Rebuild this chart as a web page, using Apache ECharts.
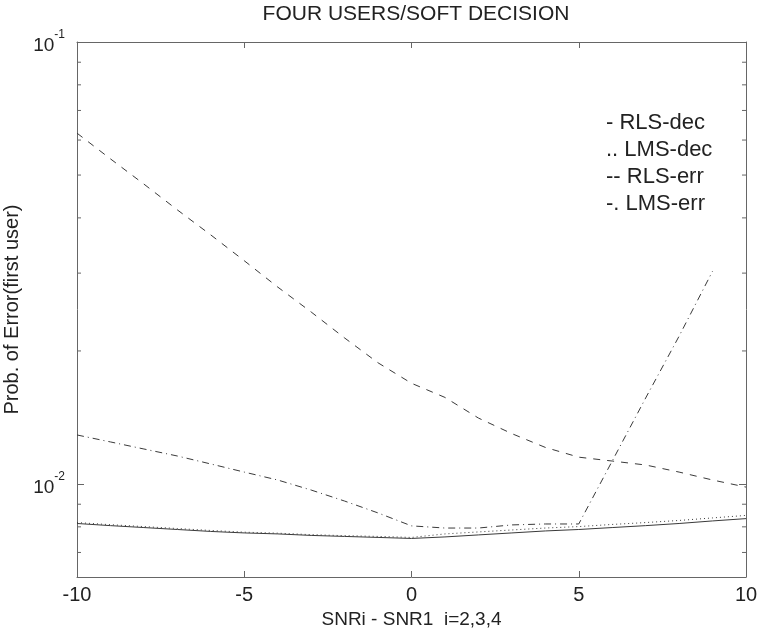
<!DOCTYPE html>
<html><head><meta charset="utf-8">
<script src="https://cdn.jsdelivr.net/npm/echarts@6/dist/echarts.min.js"></script>
<style>html,body{margin:0;padding:0;background:#fff}#c{width:759px;height:630px}</style>
</head><body><div id="c"></div>
<script>
const snrDiff = [-10,-9,-8,-7,-6,-5,-4,-3,-2,-1,0,1,2,3,4,5,6,7,8,9,10];
const rlsDec = [0.00814,0.00805,0.00797,0.00789,0.00781,0.00775,0.00771,0.00765,0.00761,0.00757,0.00753,0.00759,0.00767,0.00775,0.00783,0.00789,0.00797,0.00805,0.00814,0.00825,0.00835];
const lmsDec = [0.00818,0.00809,0.00801,0.00793,0.00785,0.00778,0.00774,0.00768,0.00764,0.00761,0.00757,0.00771,0.00779,0.00787,0.00795,0.00801,0.00810,0.00818,0.00827,0.00838,0.00849];
const rlsErr = [0.0622,0.0544,0.0477,0.0417,0.0366,0.0320,0.0279,0.0245,0.0214,0.0188,0.0169,0.0157,0.0141,0.0130,0.0121,0.0115,0.01127,0.01104,0.01064,0.01021,0.00984];
const lmsErr = [0.01291,0.01245,0.01200,0.01157,0.01110,0.01064,0.01021,0.00969,0.00915,0.00860,0.00804,0.00795,0.00795,0.00808,0.00812,0.00812,0.01127,0.01565,0.0216,0.0303,null];
const seriesNames = ['RLS-dec','LMS-dec','RLS-err','LMS-err'];
const legendPrefix = ['- ','.. ','-- ','-. '];
const yMinorTicks = [0.007,0.008,0.009,0.02,0.03,0.04,0.05,0.06,0.07,0.08,0.09];
const xTickValues = [-10,-5,0,5,10];

const FONT = 'Liberation Sans';
const INK = '#222';
const FRAME = '#666';
const LINE = '#3a3a3a';

function pairs(arr){ return snrDiff.map((x,i)=>[x,arr[i]]); }
function logLabel(v){
  const e = Math.log10(v); const r = Math.round(e);
  if (Math.abs(e-r) > 1e-6) return '';
  return '{b|10}{s|' + r + '}';
}
const yLabel = {
  formatter: logLabel, margin: 12,
  rich: {
    b: {fontSize:19, fontFamily:FONT, color:INK, verticalAlign:'bottom', lineHeight:26},
    s: {fontSize:12, fontFamily:FONT, color:INK, verticalAlign:'top', lineHeight:12}
  }
};
const chart = echarts.init(document.getElementById('c'), null, {renderer:'canvas'});
const styles = [
  {type:'solid'},
  {type:[1,3]},
  {type:[7,7]},
  {type:[7,4,1,4]}
];
const dataSets = [rlsDec, lmsDec, rlsErr, lmsErr];
const lineSeries = seriesNames.map((n,i)=>({
  name:n, type:'line', data:pairs(dataSets[i]), showSymbol:false, symbol:'none', connectNulls:false,
  lineStyle:Object.assign({color:LINE, width:1}, styles[i]), itemStyle:{color:LINE},
  xAxisIndex:0, yAxisIndex:0, z:3
}));
const minorTickSeries = {
  type:'custom', silent:true, xAxisIndex:0, yAxisIndex:0, z:5,
  data: yMinorTicks.map(v=>[xTickValues[0], v]),
  renderItem: function(params, api){
    const v = api.value(1);
    const l = api.coord([xTickValues[0], v]);
    const r = api.coord([xTickValues[xTickValues.length-1], v]);
    return {type:'group', children:[
      {type:'line', shape:{x1:l[0], y1:l[1], x2:l[0]+4, y2:l[1]}, style:{stroke:FRAME, lineWidth:1}},
      {type:'line', shape:{x1:r[0]-4, y1:r[1], x2:r[0], y2:r[1]}, style:{stroke:FRAME, lineWidth:1}}
    ]};
  }
};
const axisCommonX = {
  type:'value', min:-10, max:10, interval:5,
  axisLine:{show:true, onZero:false, lineStyle:{color:FRAME, width:1}},
  axisTick:{show:true, inside:true, length:6, lineStyle:{color:FRAME}},
  splitLine:{show:false}
};
const axisCommonY = {
  type:'log', logBase:10, min:0.00616, max:0.1,
  axisLine:{show:true, onZero:false, lineStyle:{color:FRAME, width:1}},
  axisTick:{show:true, inside:true, length:7, lineStyle:{color:FRAME}},
  splitLine:{show:false}, minorTick:{show:false}
};
const option = {
  backgroundColor:'#fff',
  animation:false,
  title:{text:'FOUR USERS/SOFT DECISION', left:411, top:-1, textAlign:'center',
    textStyle:{fontFamily:FONT, fontSize:21, fontWeight:'normal', color:INK}},
  legend:{
    data:seriesNames, orient:'vertical', left:601, top:112, icon:'none', itemWidth:0, itemHeight:14,
    itemGap:5, padding:0, selectedMode:false,
    formatter: n => legendPrefix[seriesNames.indexOf(n)] + n,
    textStyle:{fontFamily:FONT, fontSize:22, color:INK}
  },
  grid:{left:77, right:13, top:42, bottom:53, outerBoundsMode:'none', containLabel:false},
  xAxis:[
    Object.assign({}, axisCommonX, {position:'bottom',
      axisLabel:{fontSize:20, fontFamily:FONT, color:INK, margin:8},
      name:'SNRi - SNR1  i=2,3,4', nameLocation:'middle', nameGap:29,
      nameTextStyle:{fontSize:19, fontFamily:FONT, color:INK}}),
    Object.assign({}, axisCommonX, {position:'top', axisLabel:{show:false}})
  ],
  yAxis:[
    Object.assign({}, axisCommonY, {position:'left', axisLabel:yLabel,
      name:'Prob. of Error(first user)', nameLocation:'middle', nameGap:42,
      nameTextStyle:{fontSize:20, fontFamily:FONT, color:INK}}),
    Object.assign({}, axisCommonY, {position:'right', axisLabel:{show:false}})
  ],
  series: lineSeries.concat([minorTickSeries])
};
chart.setOption(option);
</script></body></html>
